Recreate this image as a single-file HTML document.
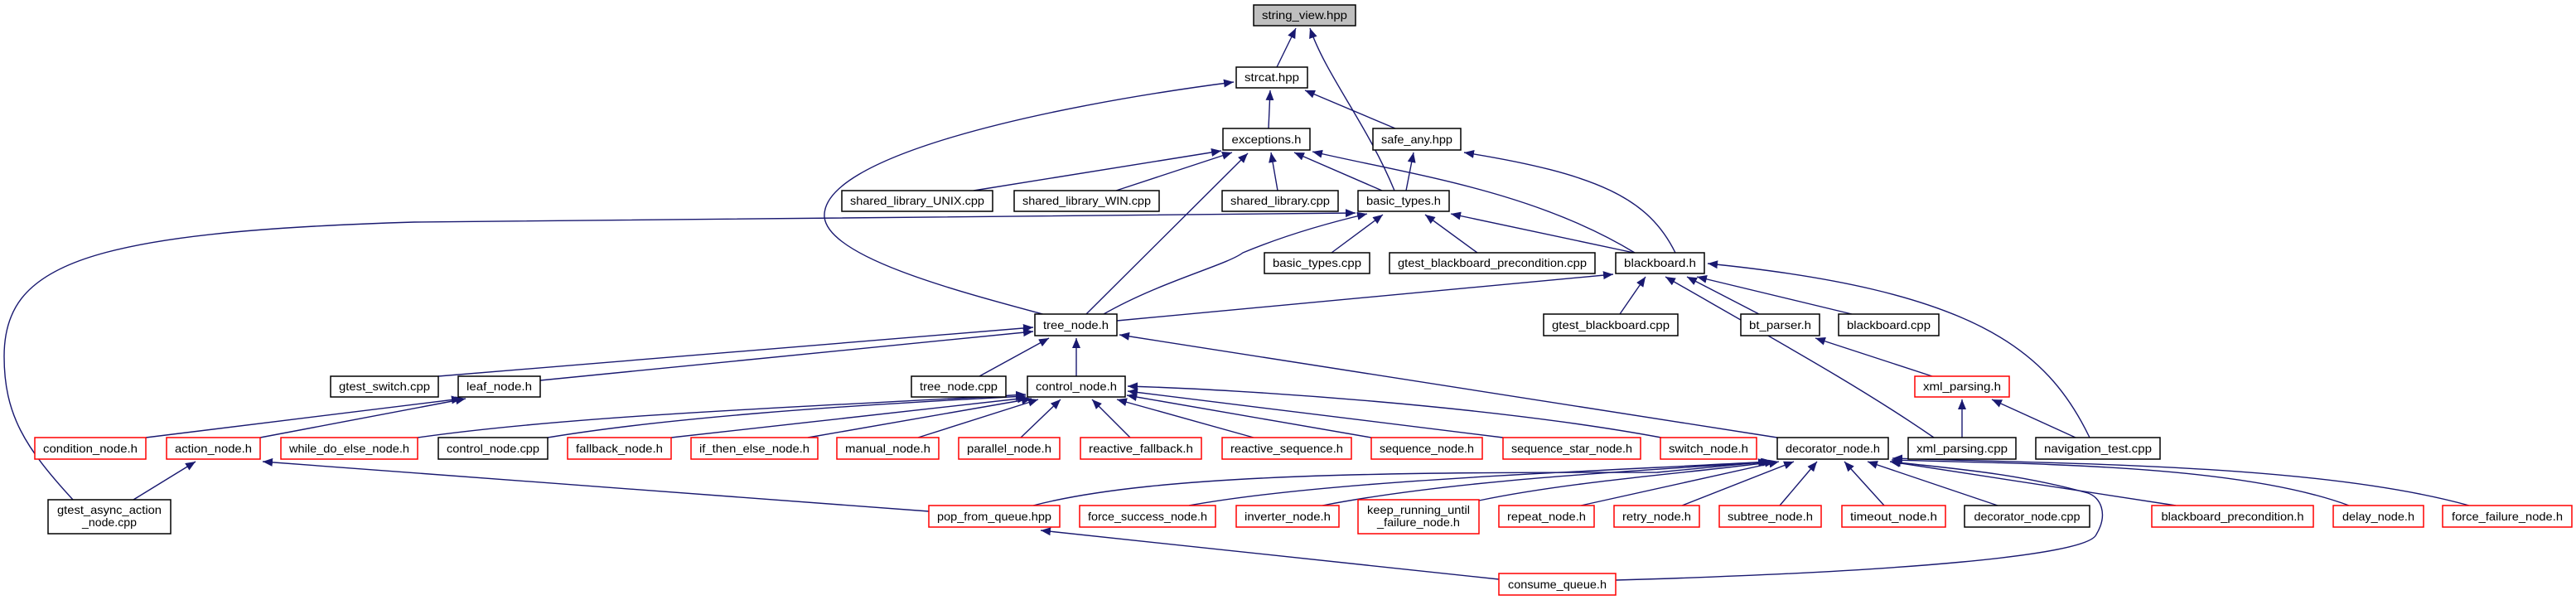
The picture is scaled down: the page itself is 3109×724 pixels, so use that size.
<!DOCTYPE html>
<html><head><meta charset="utf-8"><style>
html,body{margin:0;padding:0;background:#fff;}
svg{display:block;}
text{font-family:"Liberation Sans",sans-serif;font-size:14px;fill:#000;}
</style></head><body>
<svg width="3109" height="724" viewBox="0 0 3109 724" xmlns="http://www.w3.org/2000/svg">
<defs>
<marker id="a" markerUnits="userSpaceOnUse" markerWidth="14" markerHeight="12" refX="12" refY="5" orient="auto">
<path d="M0,0 L12,5 L0,10 Z" fill="#191970"/>
</marker>
</defs>
<g fill="none" stroke="#191970" stroke-width="1.4" marker-end="url(#a)">
<path d="M1541,81 L1564,34"/>
<path d="M1683,230 C1650,150 1600,90 1581,34"/>
<path d="M1531,155 L1533,109"/>
<path d="M1684,155 L1575,109"/>
<path d="M1262,380 C1150,350 1000,310 995,262 C990,190 1250,130 1489,99"/>
<path d="M1175,230 L1474,182"/>
<path d="M1347,230 L1487,184"/>
<path d="M1542,230 L1534,184"/>
<path d="M1668,230 L1562,184"/>
<path d="M1973,305 C1850,230 1700,210 1584,183"/>
<path d="M1311,379 L1506,185"/>
<path d="M1697,230 L1706,184"/>
<path d="M2022,305 C1990,240 1930,210 1767,184"/>
<path d="M88,603 C30,540 5,500 5,430 C5,320 100,280 500,268 C800,262 1200,262 1636,257"/>
<path d="M1332,379 C1400,340 1480,320 1500,305 C1560,280 1620,265 1650,258"/>
<path d="M1607,305 L1669,259"/>
<path d="M1783,305 L1720,259"/>
<path d="M1972,305 L1751,258"/>
<path d="M1348,387 L1947,331"/>
<path d="M1955,379 L1986,334"/>
<path d="M2123,379 L2036,334"/>
<path d="M2235,379 L2048,334"/>
<path d="M2334,528 C2250,470 2160,420 2010,334"/>
<path d="M2522,528 C2470,420 2380,350 2061,318"/>
<path d="M2505,528 L2404,482"/>
<path d="M2368,528 L2368,482"/>
<path d="M2332,454 L2191,408"/>
<path d="M529,454 L1247,395"/>
<path d="M652,459 L1247,400"/>
<path d="M1182,454 L1266,408"/>
<path d="M1299,454 L1299,408"/>
<path d="M2145,528 L1351,404"/>
<path d="M176,528 L557,481"/>
<path d="M314,528 L562,481"/>
<path d="M161,603 L236,557"/>
<path d="M1121,617 L317,557"/>
<path d="M504,528 C700,500 1000,490 1238,476"/>
<path d="M661,528 C800,505 1000,490 1238,478"/>
<path d="M810,528 L1240,480"/>
<path d="M975,528 L1245,481"/>
<path d="M1108,528 L1253,482"/>
<path d="M1232,528 L1280,482"/>
<path d="M1364,528 L1318,482"/>
<path d="M1513,528 L1348,482"/>
<path d="M1655,528 L1360,477"/>
<path d="M1814,528 L1361,472"/>
<path d="M2005,528 C1800,490 1500,470 1361,466"/>
<path d="M1247,610 C1400,570 1700,570 2000,570 L2134,557"/>
<path d="M1435,610 C1600,580 1900,570 2137,557"/>
<path d="M1596,610 C1750,580 1950,570 2139,557"/>
<path d="M1785,604 C1900,580 2050,570 2142,557"/>
<path d="M1908,610 L2147,557"/>
<path d="M2030,610 L2165,557"/>
<path d="M2148,610 L2193,557"/>
<path d="M2274,610 L2226,557"/>
<path d="M2411,610 L2254,557"/>
<path d="M2626,610 L2281,557"/>
<path d="M2835,610 C2700,560 2450,560 2283,555"/>
<path d="M2980,610 C2800,560 2500,560 2284,553"/>
<path d="M1950,700 C2300,690 2520,670 2530,645 C2545,620 2535,600 2520,595 C2430,570 2350,565 2282,557"/>
<path d="M1809,699 L1256,640"/>
</g>
<g stroke-width="1.5">
<rect x="1513" y="6" width="123" height="25" fill="#bfbfbf" stroke="#000"/>
<text x="1574.5" y="23" text-anchor="middle" textLength="103" lengthAdjust="spacingAndGlyphs">string_view.hpp</text>
</g>
<g fill="#fff" stroke="#000" stroke-width="1.5">
<rect x="1492" y="81" width="86" height="25"/>
<rect x="1476" y="155" width="105" height="26"/>
<rect x="1657" y="155" width="106" height="26"/>
<rect x="1016" y="230" width="182" height="25"/>
<rect x="1224" y="230" width="175" height="25"/>
<rect x="1475" y="230" width="140" height="25"/>
<rect x="1639" y="230" width="110" height="25"/>
<rect x="1526" y="305" width="127" height="25"/>
<rect x="1677" y="305" width="248" height="25"/>
<rect x="1950" y="305" width="107" height="25"/>
<rect x="1249" y="379" width="99" height="26"/>
<rect x="1863" y="379" width="162" height="26"/>
<rect x="2101" y="379" width="95" height="26"/>
<rect x="2219" y="379" width="121" height="26"/>
<rect x="399" y="454" width="130" height="25"/>
<rect x="553" y="454" width="99" height="25"/>
<rect x="1100" y="454" width="114" height="25"/>
<rect x="1240" y="454" width="118" height="25"/>
<rect x="529" y="528" width="132" height="26"/>
<rect x="2145" y="528" width="134" height="26"/>
<rect x="2303" y="528" width="130" height="26"/>
<rect x="2457" y="528" width="150" height="26"/>
<rect x="58" y="603" width="148" height="41"/>
<rect x="2371" y="610" width="151" height="26"/>
</g>
<g fill="#fff" stroke="#ff0000" stroke-width="1.5">
<rect x="2311" y="454" width="114" height="25"/>
<rect x="42" y="528" width="134" height="26"/>
<rect x="201" y="528" width="113" height="26"/>
<rect x="339" y="528" width="165" height="26"/>
<rect x="685" y="528" width="125" height="26"/>
<rect x="834" y="528" width="153" height="26"/>
<rect x="1010" y="528" width="123" height="26"/>
<rect x="1157" y="528" width="122" height="26"/>
<rect x="1304" y="528" width="146" height="26"/>
<rect x="1475" y="528" width="156" height="26"/>
<rect x="1655" y="528" width="134" height="26"/>
<rect x="1814" y="528" width="166" height="26"/>
<rect x="2004" y="528" width="116" height="26"/>
<rect x="1121" y="610" width="158" height="26"/>
<rect x="1303" y="610" width="164" height="26"/>
<rect x="1492" y="610" width="124" height="26"/>
<rect x="1639" y="603" width="146" height="41"/>
<rect x="1809" y="610" width="115" height="26"/>
<rect x="1948" y="610" width="103" height="26"/>
<rect x="2075" y="610" width="123" height="26"/>
<rect x="2223" y="610" width="125" height="26"/>
<rect x="2597" y="610" width="195" height="26"/>
<rect x="2816" y="610" width="109" height="26"/>
<rect x="2948" y="610" width="156" height="26"/>
<rect x="1809" y="692" width="141" height="26"/>
</g>
<g text-anchor="middle" lengthAdjust="spacingAndGlyphs">
<text x="1535" y="98" textLength="66" lengthAdjust="spacingAndGlyphs">strcat.hpp</text>
<text x="1528.5" y="173" textLength="84" lengthAdjust="spacingAndGlyphs">exceptions.h</text>
<text x="1710" y="173" textLength="86" lengthAdjust="spacingAndGlyphs">safe_any.hpp</text>
<text x="1107" y="247" textLength="162" lengthAdjust="spacingAndGlyphs">shared_library_UNIX.cpp</text>
<text x="1311.5" y="247" textLength="155" lengthAdjust="spacingAndGlyphs">shared_library_WIN.cpp</text>
<text x="1545" y="247" textLength="120" lengthAdjust="spacingAndGlyphs">shared_library.cpp</text>
<text x="1694" y="247" textLength="90" lengthAdjust="spacingAndGlyphs">basic_types.h</text>
<text x="1589.5" y="322" textLength="107" lengthAdjust="spacingAndGlyphs">basic_types.cpp</text>
<text x="1801" y="322" textLength="228" lengthAdjust="spacingAndGlyphs">gtest_blackboard_precondition.cpp</text>
<text x="2003.5" y="322" textLength="87" lengthAdjust="spacingAndGlyphs">blackboard.h</text>
<text x="1298.5" y="397" textLength="79" lengthAdjust="spacingAndGlyphs">tree_node.h</text>
<text x="1944" y="397" textLength="142" lengthAdjust="spacingAndGlyphs">gtest_blackboard.cpp</text>
<text x="2148.5" y="397" textLength="75" lengthAdjust="spacingAndGlyphs">bt_parser.h</text>
<text x="2279.5" y="397" textLength="101" lengthAdjust="spacingAndGlyphs">blackboard.cpp</text>
<text x="464" y="471" textLength="110" lengthAdjust="spacingAndGlyphs">gtest_switch.cpp</text>
<text x="602.5" y="471" textLength="79" lengthAdjust="spacingAndGlyphs">leaf_node.h</text>
<text x="1157" y="471" textLength="94" lengthAdjust="spacingAndGlyphs">tree_node.cpp</text>
<text x="1299" y="471" textLength="98" lengthAdjust="spacingAndGlyphs">control_node.h</text>
<text x="2368" y="471" textLength="94" lengthAdjust="spacingAndGlyphs">xml_parsing.h</text>
<text x="109" y="546" textLength="114" lengthAdjust="spacingAndGlyphs">condition_node.h</text>
<text x="257.5" y="546" textLength="93" lengthAdjust="spacingAndGlyphs">action_node.h</text>
<text x="421.5" y="546" textLength="145" lengthAdjust="spacingAndGlyphs">while_do_else_node.h</text>
<text x="595" y="546" textLength="112" lengthAdjust="spacingAndGlyphs">control_node.cpp</text>
<text x="747.5" y="546" textLength="105" lengthAdjust="spacingAndGlyphs">fallback_node.h</text>
<text x="910.5" y="546" textLength="133" lengthAdjust="spacingAndGlyphs">if_then_else_node.h</text>
<text x="1071.5" y="546" textLength="103" lengthAdjust="spacingAndGlyphs">manual_node.h</text>
<text x="1218" y="546" textLength="102" lengthAdjust="spacingAndGlyphs">parallel_node.h</text>
<text x="1377" y="546" textLength="126" lengthAdjust="spacingAndGlyphs">reactive_fallback.h</text>
<text x="1553" y="546" textLength="136" lengthAdjust="spacingAndGlyphs">reactive_sequence.h</text>
<text x="1722" y="546" textLength="114" lengthAdjust="spacingAndGlyphs">sequence_node.h</text>
<text x="1897" y="546" textLength="146" lengthAdjust="spacingAndGlyphs">sequence_star_node.h</text>
<text x="2062" y="546" textLength="96" lengthAdjust="spacingAndGlyphs">switch_node.h</text>
<text x="2212" y="546" textLength="114" lengthAdjust="spacingAndGlyphs">decorator_node.h</text>
<text x="2368" y="546" textLength="110" lengthAdjust="spacingAndGlyphs">xml_parsing.cpp</text>
<text x="2532" y="546" textLength="130" lengthAdjust="spacingAndGlyphs">navigation_test.cpp</text>
<text x="132" y="620" textLength="126" lengthAdjust="spacingAndGlyphs">gtest_async_action</text>
<text x="132" y="635" textLength="66" lengthAdjust="spacingAndGlyphs">_node.cpp</text>
<text x="1200" y="628" textLength="138" lengthAdjust="spacingAndGlyphs">pop_from_queue.hpp</text>
<text x="1385" y="628" textLength="144" lengthAdjust="spacingAndGlyphs">force_success_node.h</text>
<text x="1554" y="628" textLength="104" lengthAdjust="spacingAndGlyphs">inverter_node.h</text>
<text x="1712" y="620" textLength="124" lengthAdjust="spacingAndGlyphs">keep_running_until</text>
<text x="1712" y="635" textLength="100" lengthAdjust="spacingAndGlyphs">_failure_node.h</text>
<text x="1866.5" y="628" textLength="95" lengthAdjust="spacingAndGlyphs">repeat_node.h</text>
<text x="1999.5" y="628" textLength="83" lengthAdjust="spacingAndGlyphs">retry_node.h</text>
<text x="2136.5" y="628" textLength="103" lengthAdjust="spacingAndGlyphs">subtree_node.h</text>
<text x="2285.5" y="628" textLength="105" lengthAdjust="spacingAndGlyphs">timeout_node.h</text>
<text x="2446.5" y="628" textLength="128" lengthAdjust="spacingAndGlyphs">decorator_node.cpp</text>
<text x="2694.5" y="628" textLength="172" lengthAdjust="spacingAndGlyphs">blackboard_precondition.h</text>
<text x="2870.5" y="628" textLength="87" lengthAdjust="spacingAndGlyphs">delay_node.h</text>
<text x="3026" y="628" textLength="134" lengthAdjust="spacingAndGlyphs">force_failure_node.h</text>
<text x="1879.5" y="710" textLength="119" lengthAdjust="spacingAndGlyphs">consume_queue.h</text>
</g>
</svg>
</body></html>
